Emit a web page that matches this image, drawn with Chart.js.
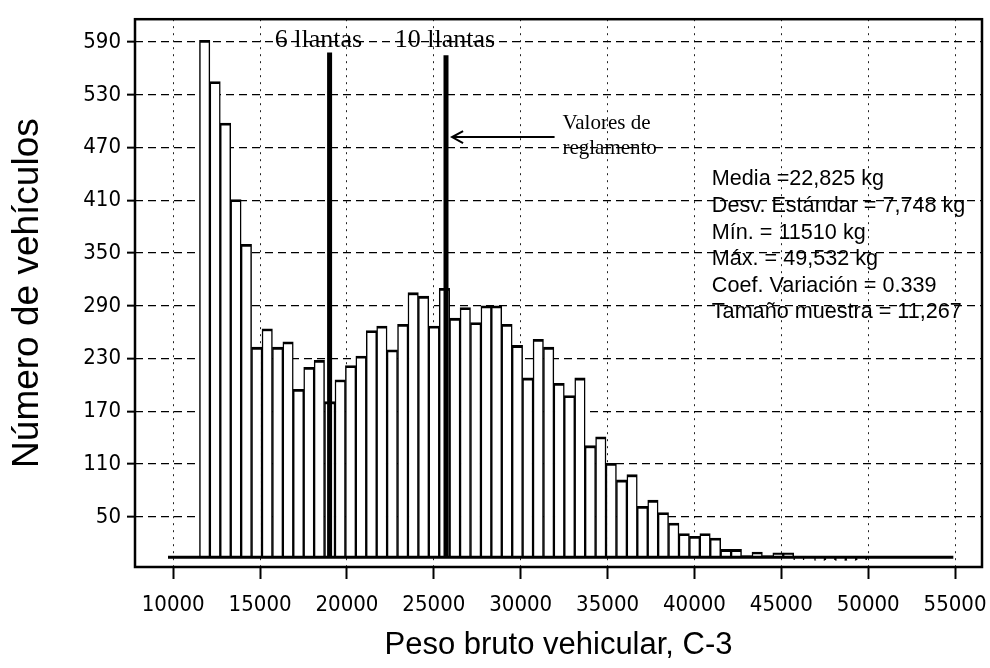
<!DOCTYPE html>
<html>
<head>
<meta charset="utf-8">
<script src="https://cdn.jsdelivr.net/npm/chart.js@4.4.1/dist/chart.umd.min.js"></script>
<style>
  html, body { margin: 0; padding: 0; background: #fff; }
  #wrap { width: 990px; height: 668px; }
</style>
</head>
<body>
<div id="wrap"><canvas id="chart"></canvas></div>
<script>
// lower edge of each weight bin (kg)
const binEdges = [
  11510, 12110, 12710, 13310, 13910, 14510, 15110, 15710, 16310, 16910,
  17510, 18110, 18710, 19310, 19910, 20510, 21110, 21710, 22310, 22910,
  23510, 24110, 24710, 25310, 25910, 26510, 27110, 27710, 28310, 28910,
  29510, 30110, 30710, 31310, 31910, 32510, 33110, 33710, 34310, 34910,
  35510, 36110, 36710, 37310, 37910, 38510, 39110, 39710, 40310, 40910,
  41510, 42110, 42710, 43310, 43910, 44510, 45110, 45710, 46310, 46910,
  47510, 48110, 48710, 49310
];
const binWidth = 600;

// number of vehicles in each bin
const counts = [
  592, 545, 498, 411, 360, 243, 264, 243, 249, 195,
  220, 228, 181, 206, 222, 233, 262, 267, 240, 269,
  305, 301, 267, 310, 276, 288, 271, 290, 290, 269,
  245, 208, 252, 243, 202, 188, 208, 131, 141, 111,
  92, 98, 62, 69, 55, 43, 31, 28, 31, 26,
  13, 13, 6, 10, 6, 9, 9, 1, 3, 0,
  1, 0, 0, 1
];

const yTicks = [50, 110, 170, 230, 290, 350, 410, 470, 530, 590];
const xTicks = [10000, 15000, 20000, 25000, 30000, 35000, 40000, 45000, 50000, 55000];

// regulation limits (kg) and the height the marker lines reach
const regLabels = ["6 llantas", "10 llantas"];
const regValues = [19000, 25700];
const regTops = [578, 575];

// zero line of the histogram
const baseLevel = 4;
const baseSpan = [9700, 54900];

const noteLines = ["Valores de", "reglamento"];
const statLines = [
  "Media =22,825 kg",
  "Desv. Estándar = 7,748 kg",
  "Mín. = 11510 kg",
  "Máx. = 49,532 kg",
  "Coef. Variación = 0.339",
  "Tamaño muestra = 11,267"
];

const fontSans = "'Liberation Sans', Arial, sans-serif";
const fontNarrow = "'Liberation Sans Narrow', 'Arial Narrow', 'DejaVu Sans Condensed', sans-serif";
const fontSerif = "'Liberation Serif', 'Times New Roman', serif";

const bars = binEdges.map((e, i) => ({ x: e + binWidth / 2, y: counts[i] }));

const datasets = [
  {
    type: "bar",
    data: bars,
    base: baseLevel,
    backgroundColor: "#fff",
    borderColor: "#000",
    borderWidth: { top: 2.8, left: 1.5, right: 1.5, bottom: 0 },
    borderSkipped: "start",
    barPercentage: 1,
    categoryPercentage: 1,
    order: 3
  },
  {
    type: "line",
    data: baseSpan.map(v => ({ x: v, y: baseLevel })),
    borderColor: "#000",
    borderWidth: 3,
    pointRadius: 0,
    order: 2
  }
];
regValues.forEach((v, i) => {
  datasets.push({
    type: "line",
    data: [{ x: v, y: baseLevel }, { x: v, y: regTops[i] }],
    borderColor: "#000",
    borderWidth: 5,
    borderCapStyle: "butt",
    pointRadius: 0,
    order: 1
  });
});

// box round the plot, labels and the stats block
const overlay = {
  id: "overlay",
  afterDatasetsDraw(chart) {
    const { ctx, chartArea: a, scales: { x, y } } = chart;
    ctx.save();
    ctx.strokeStyle = "#000";
    ctx.lineWidth = 2.5;
    ctx.strokeRect(a.left, a.top, a.right - a.left, a.bottom - a.top);

    ctx.fillStyle = "#000";
    ctx.textBaseline = "middle";
    ctx.textAlign = "left";

    // 6 / 10 llantas
    ctx.font = "26px " + fontSerif;
    const regLabelX = [15850, 22750];
    regLabels.forEach((t, i) => ctx.fillText(t, x.getPixelForValue(regLabelX[i]), y.getPixelForValue(592)));

    // note with arrow
    ctx.font = "21px " + fontSerif;
    const noteY = [497, 469];
    noteLines.forEach((t, i) => ctx.fillText(t, x.getPixelForValue(32400), y.getPixelForValue(noteY[i])));

    const ay = y.getPixelForValue(482);
    const ax0 = x.getPixelForValue(31950);
    const ax1 = x.getPixelForValue(26050);
    ctx.lineWidth = 2;
    ctx.beginPath();
    ctx.moveTo(ax0, ay);
    ctx.lineTo(ax1, ay);
    ctx.moveTo(ax1 + 11, ay - 6);
    ctx.lineTo(ax1, ay);
    ctx.lineTo(ax1 + 11, ay + 6);
    ctx.stroke();

    // summary statistics
    ctx.font = "21.6px " + fontSans;
    const statY = [434, 403, 373, 343, 313, 283];
    statLines.forEach((t, i) => ctx.fillText(t, x.getPixelForValue(41000), y.getPixelForValue(statY[i])));
    ctx.restore();
  }
};

new Chart(document.getElementById("chart").getContext("2d"), {
  type: "bar",
  data: { datasets },
  options: {
    responsive: true,
    maintainAspectRatio: false,
    animation: false,
    layout: { padding: { left: 0, right: 8, top: 7, bottom: 0 } },
    plugins: { legend: { display: false }, tooltip: { enabled: false } },
    scales: {
      x: {
        type: "linear",
        offset: false,
        min: 7800,
        max: 56550,
        afterBuildTicks: s => { s.ticks = xTicks.map(v => ({ value: v })); },
        afterFit: s => { s.height = 101; s.paddingLeft = 0; s.paddingRight = 0; },
        grid: {
          offset: false,
          color: "#222",
          lineWidth: 1,
          tickLength: 12,
          tickWidth: 2,
          tickColor: "#000",
          tickBorderDash: []
        },
        border: { display: false, dash: [2, 5] },
        ticks: {
          color: "#000",
          padding: 13,
          maxRotation: 0,
          autoSkip: false,
          font: { family: fontNarrow, size: 22 },
          callback: v => String(v)
        },
        title: {
          display: true,
          text: "Peso bruto vehicular, C-3",
          color: "#000",
          font: { family: fontSans, size: 31 },
          padding: { top: 4, bottom: 4 }
        }
      },
      y: {
        min: -7,
        max: 616,
        afterBuildTicks: s => { s.ticks = yTicks.map(v => ({ value: v })); },
        afterFit: s => { s.width = 135; },
        grid: {
          color: "#000",
          lineWidth: 1.3,
          tickLength: 8,
          tickWidth: 2,
          tickColor: "#000",
          tickBorderDash: []
        },
        border: { display: false, dash: [8, 5] },
        ticks: {
          color: "#000",
          padding: 6,
          font: { family: fontNarrow, size: 22 },
          callback: v => String(v)
        },
        title: {
          display: true,
          text: "Número de vehículos",
          color: "#000",
          font: { family: fontSans, size: 37 },
          padding: { top: 6, bottom: 6 }
        }
      }
    }
  },
  plugins: [overlay]
});
</script>
</body>
</html>
